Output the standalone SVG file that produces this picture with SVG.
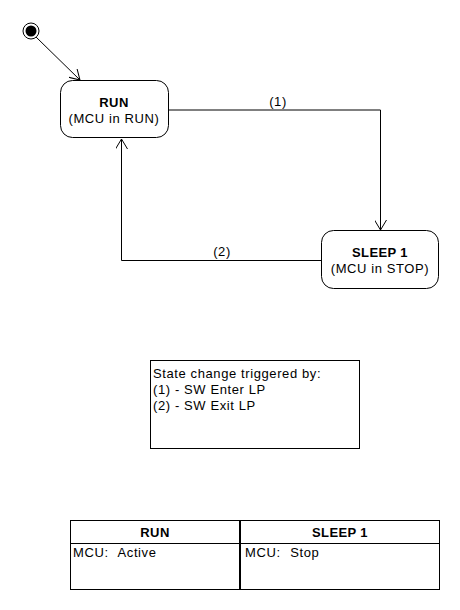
<svg xmlns="http://www.w3.org/2000/svg" width="460" height="610" viewBox="0 0 460 610">
<defs>
<style>
text{font-family:"Liberation Sans",Arial,sans-serif;font-size:13px;letter-spacing:0.6px;fill:#000}
.b{font-weight:bold;letter-spacing:0.4px}
.w{word-spacing:0.6px}
.st{fill:#fff;stroke:#000;stroke-width:1}
.ln{fill:none;stroke:#000;stroke-width:1}
</style>
<marker id="arr" markerWidth="12" markerHeight="12" refX="10" refY="6" orient="auto" markerUnits="userSpaceOnUse">
<path d="M0,0 L10,6 L0,12" fill="none" stroke="#000" stroke-width="1"/>
</marker>
</defs>
<rect width="460" height="610" fill="#fff"/>
<g id="connectors">
<line class="ln" x1="36" y1="37" x2="80" y2="80" marker-end="url(#arr)"/>
<polyline class="ln" points="169,110 380.5,110 380.5,230" marker-end="url(#arr)"/>
<text x="278" y="106" text-anchor="middle">(1)</text>
<polyline class="ln" points="321,260.5 121.5,260.5 121.5,139" marker-end="url(#arr)"/>
<text x="222" y="256" text-anchor="middle">(2)</text>
</g>
<g id="initial">
<circle cx="31" cy="31" r="8" fill="#fff" stroke="#000"/>
<circle cx="31" cy="31" r="5.5" fill="#000"/>
</g>
<g id="run">
<rect class="st" x="60.5" y="80.5" width="108" height="57" rx="12"/>
<text x="114" y="107" text-anchor="middle" class="b">RUN</text>
<text x="114" y="123" text-anchor="middle">(MCU in RUN)</text>
</g>
<g id="sleep1">
<rect class="st" x="321.5" y="230.5" width="117" height="58" rx="12"/>
<text x="380" y="257" text-anchor="middle" class="b">SLEEP 1</text>
<text x="380" y="273" text-anchor="middle">(MCU in STOP)</text>
</g>
<g id="note">
<rect class="st" x="150.5" y="360.5" width="209" height="88"/>
<text x="153" y="378">State change triggered by:</text>
<text x="153" y="394">(1) - SW Enter LP</text>
<text x="153" y="410">(2) - SW Exit LP</text>
</g>
<g id="table">
<rect class="st" x="70.5" y="520.5" width="369" height="69"/>
<line class="ln" x1="70" y1="543.5" x2="440" y2="543.5"/>
<line x1="240" y1="520" x2="240" y2="590" stroke="#000" stroke-width="2"/>
<text x="155" y="537" text-anchor="middle" class="b">RUN</text>
<text x="340" y="537" text-anchor="middle" class="b">SLEEP 1</text>
<text x="73" y="557" class="w" xml:space="preserve">MCU:  Active</text>
<text x="245" y="557" class="w" xml:space="preserve">MCU:  Stop</text>
</g>
</svg>
